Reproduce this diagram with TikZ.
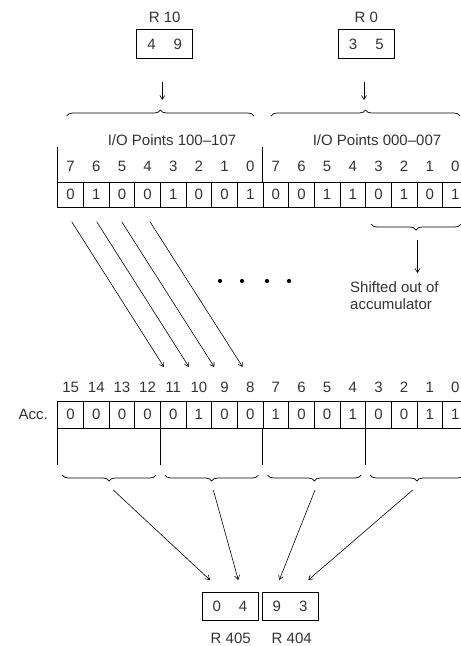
\documentclass[tikz,border=0pt]{standalone}
\usepackage{fontspec}
\setmainfont{Liberation Sans}
\usetikzlibrary{arrows.meta,decorations.pathreplacing,calc}
\begin{document}
\begin{tikzpicture}[x=1pt,y=-1pt,
  font=\fontsize{15}{17}\selectfont,
  txt/.style={text=black!80,inner sep=0pt},
  ln/.style={line width=0.7pt},
  cellbox/.style={draw,line width=0.7pt,minimum width=25.65pt,inner sep=0pt,text=black!80},
  arr/.style={line width=0.6pt,-{Straight Barb[length=4pt,width=5pt]}},
  brc/.style={decorate,decoration={brace,amplitude=6pt},line width=0.7pt},
  reg/.style={draw,line width=1pt,minimum width=56pt,minimum height=29pt,inner sep=0pt,text=black!80}]
\useasboundingbox (0,0) rectangle (461,646);
\clip (0,0) rectangle (461,646);

% top registers
\node[txt] (r10l) at (164.7,17) {R 10};
\node[reg] (r10) at (164.7,44) {4\hspace{18pt}9};
\node[txt] (r0l) at (366.3,17) {R 0};
\node[reg] (r0) at (366.3,44) {3\hspace{18pt}5};

\coordinate (a1s) at (162.3,82);
\coordinate (a1e) at (162.3,100);
\coordinate (a2s) at (364,82);
\coordinate (a2e) at (364,100);
\draw[arr] (a1s) -- (a1e);
\draw[arr] (a2s) -- (a2e);

\draw[brc] (66.7,116) -- (254,116);
\draw[brc] (271,116) -- (460,116);

\node[txt] (io1) at (172,140) {I/O Points 100--107};
\node[txt] (io2) at (377,140) {I/O Points 000--007};

% top 16-bit field
\foreach \b [count=\i from 0] in {0,1,0,0,1,0,0,1,0,0,1,1,0,1,0,1}
  \node[cellbox,minimum height=25pt] (t\i) at ({57.8+25.65*\i+12.825},194.5) {\b};
\foreach \h [count=\i from 0] in {7,6,5,4,3,2,1,0,7,6,5,4,3,2,1,0}
  \node[txt] (th\i) at ({57.8+25.65*\i+12.825},166) {\h};
\draw[ln] (t0.north west) -- ++(0,-35);
\draw[ln] (t8.north west) -- ++(0,-35);
\draw[ln] (t15.north east) -- ++(0,-35);

% arrows into accumulator
\coordinate (s1) at (71.7,221.7);
\coordinate (s2) at (96.7,221.7);
\coordinate (s3) at (121.7,221.7);
\coordinate (s4) at (150,221.7);
\coordinate (e1) at (164,367);
\coordinate (e2) at (189,367);
\coordinate (e3) at (214.3,367);
\coordinate (e4) at (242.7,367);
\foreach \k in {1,2,3,4} \draw[arr] (s\k) -- (e\k);

\foreach \x in {220,242,267,289} \fill (\x,281) circle (2.1pt);

% shifted out
\draw[brc] (461,224) -- (371,224);
\coordinate (shs) at (417.5,240);
\coordinate (she) at (417.5,273);
\draw[arr] (shs) -- (she);
\node[txt,anchor=west] (sh1) at (350,287.3) {Shifted out of};
\node[txt,anchor=west] (sh2) at (350,304) {accumulator};

% accumulator
\node[txt,anchor=east] (acc) at (48,414.5) {Acc.};
\foreach \b [count=\i from 0] in {0,0,0,0,0,1,0,0,1,0,0,1,0,0,1,1}
  \node[cellbox,minimum height=27pt] (b\i) at ({57.8+25.65*\i+12.825},414.5) {\b};
\foreach \h [count=\i from 0] in {15,14,13,12,11,10,9,8,7,6,5,4,3,2,1,0}
  \node[txt] (bh\i) at ({57.8+25.65*\i+12.825},387) {\h};
\foreach \g in {0,4,8,12} \draw[ln] (b\g.south west) -- ++(0,37);
\draw[ln] (b15.south east) -- ++(0,37);

\foreach \g in {0,1,2,3}
  \draw[brc] ({57.8+102.6*(\g+1)-4.5},475) -- ({57.8+102.6*\g+4.5},475);

% arrows to result registers
\coordinate (u1) at (113.3,490);
\coordinate (u2) at (213.3,490);
\coordinate (u3) at (315,490);
\coordinate (u4) at (412.7,490);
\coordinate (v1) at (210,580);
\coordinate (v2) at (238.3,580);
\coordinate (v3) at (279.3,580);
\coordinate (v4) at (308.3,580);
\foreach \k in {1,2,3,4} \draw[arr] (u\k) -- (v\k);

\node[reg,minimum height=28pt] (r405) at (230,606) {0\hspace{18pt}4};
\node[reg,minimum height=28pt] (r404) at (290,606) {9\hspace{18pt}3};
\node[txt] (r405l) at (230.7,638) {R 405};
\node[txt] (r404l) at (291.7,638) {R 404};
\end{tikzpicture}
\end{document}
